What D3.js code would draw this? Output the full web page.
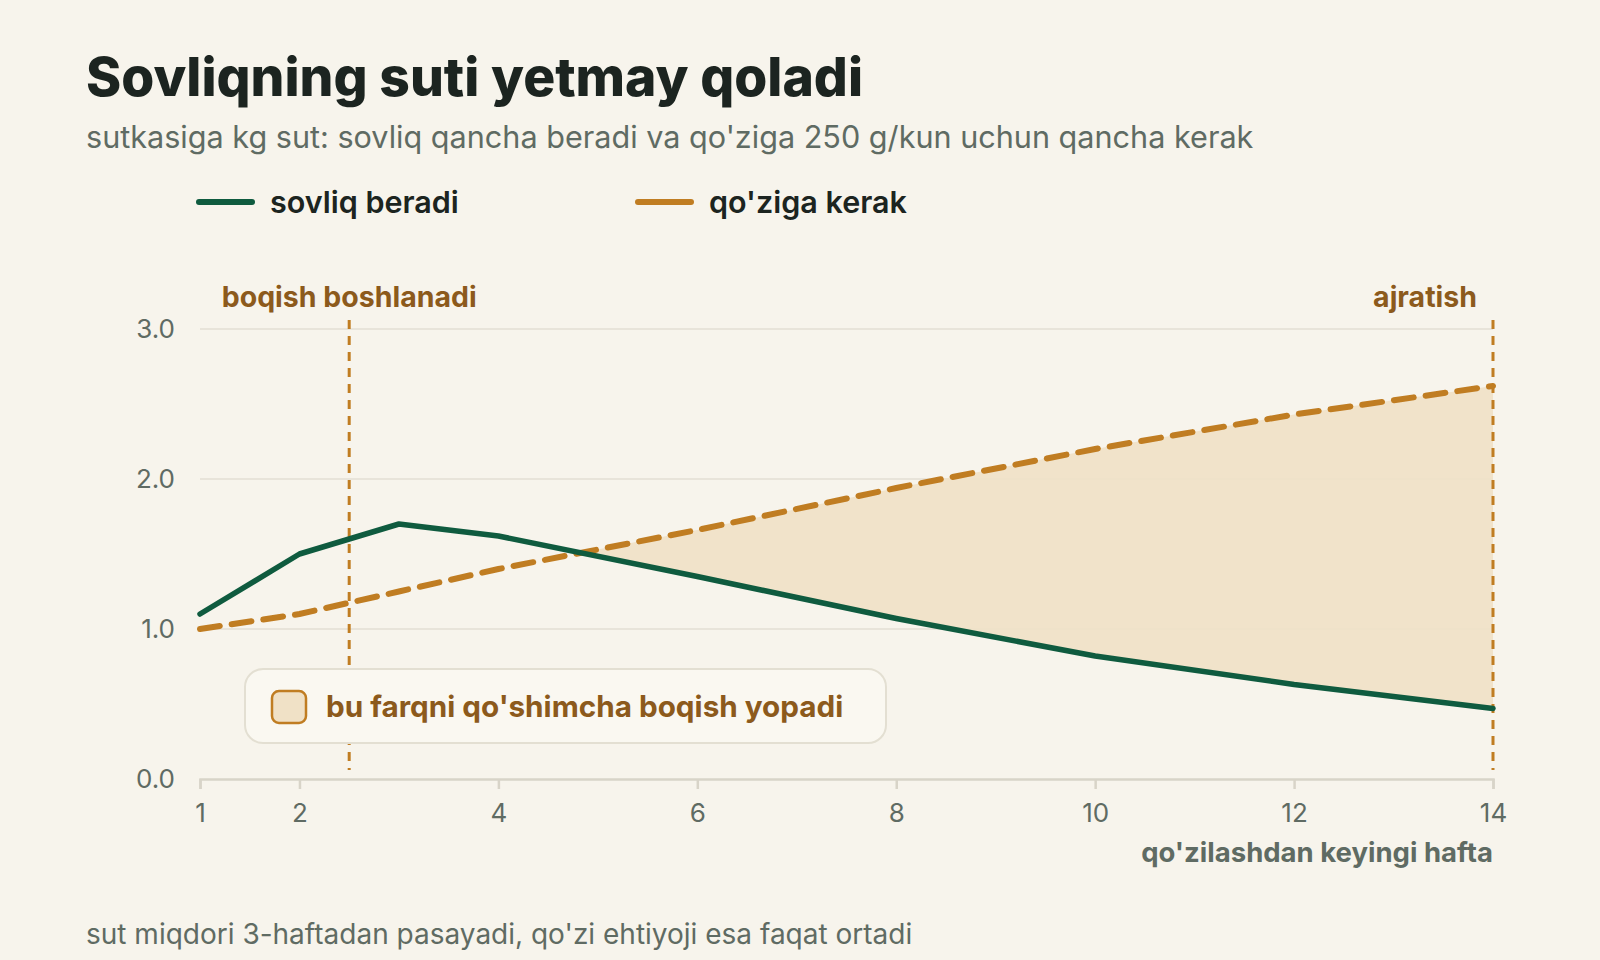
<!DOCTYPE html>
<html>
<head>
<meta charset="utf-8">
<script src="https://cdn.jsdelivr.net/npm/d3@7"></script>
<style>
  html, body { margin: 0; padding: 0; background: #f7f4ec; }
  svg { display: block; font-family: Inter, "Noto Sans", sans-serif; }
</style>
</head>
<body>
<svg id="chart" width="1600" height="960"></svg>
<script>
// ---- data ----
const weeks = [1, 2, 3, 4, 6, 8, 10, 12, 14];
const eweGives = [1.1, 1.5, 1.7, 1.62, 1.35, 1.07, 0.82, 0.63, 0.47];
const lambNeeds = [1.0, 1.1, 1.25, 1.4, 1.66, 1.94, 2.2, 2.43, 2.62];
const xTicks = [1, 2, 4, 6, 8, 10, 12, 14];
const yTicks = [0, 1, 2, 3];
const markers = [
  { week: 2.5, label: "boqish boshlanadi", anchor: "middle" },
  { week: 14, label: "ajratish", anchor: "end" }
];
const seriesNames = ["sovliq beradi", "qo'ziga kerak"];
const titleText = "Sovliqning suti yetmay qoladi";
const subtitleText = "sutkasiga kg sut: sovliq qancha beradi va qo'ziga 250 g/kun uchun qancha kerak";
const xTitle = "qo'zilashdan keyingi hafta";
const gapLabel = "bu farqni qo'shimcha boqish yopadi";
const footerText = "sut miqdori 3-haftadan pasayadi, qo'zi ehtiyoji esa faqat ortadi";

// ---- style ----
const GREEN = "#0f5b3f";
const ORANGE = "#c07d22";
const BROWN = "#8c5a1c";
const GRAY = "#5f6b63";
const GRID = "#e3dfd4";
const FILL = "#f0e1c6";

const svg = d3.select("#chart");
const W = 1600, H = 960;
svg.append("rect").attr("width", W).attr("height", H).attr("fill", "#f7f4ec");

const x = d3.scaleLinear().domain([1, 14]).range([200, 1493]);
const y = d3.scaleLinear().domain([0, 3]).range([779, 329]);

const data = weeks.map((w, i) => ({ w, give: eweGives[i], need: lambNeeds[i] }));

// title
svg.append("text").attr("x", 86).attr("y", 96)
  .attr("font-size", 53.4).attr("font-weight", 800).attr("fill", "#1c2420")
  .text(titleText);
svg.append("text").attr("x", 86).attr("y", 148)
  .attr("font-size", 30.6).attr("fill", GRAY).text(subtitleText);

// legend
const legend = [
  { name: seriesNames[0], color: GREEN, x: 199 },
  { name: seriesNames[1], color: ORANGE, x: 638 }
];
legend.forEach(l => {
  svg.append("line").attr("x1", l.x).attr("x2", l.x + 53).attr("y1", 202).attr("y2", 202)
    .attr("stroke", l.color).attr("stroke-width", 6).attr("stroke-linecap", "round");
  svg.append("text").attr("x", l.x + 71).attr("y", 213)
    .attr("font-size", 30.5).attr("font-weight", 600).attr("fill", "#1c2420").text(l.name);
});

// gridlines
svg.append("g").selectAll("line").data(yTicks.filter(d => d > 0)).join("line")
  .attr("x1", x(1)).attr("x2", x(14)).attr("y1", d => y(d)).attr("y2", d => y(d))
  .attr("stroke", GRID).attr("stroke-width", 1.5);

// y labels
svg.append("g").selectAll("text").data(yTicks).join("text")
  .attr("x", 175).attr("y", d => y(d)).attr("dy", "0.35em")
  .attr("text-anchor", "end").attr("font-size", 26).attr("fill", GRAY)
  .text(d => d3.format(".1f")(d));

// gap area (need above give)
const area = d3.area()
  .x(d => x(d.w))
  .y0(d => y(Math.min(d.give, d.need)))
  .y1(d => y(d.need));
const dense = [];
for (let i = 0; i < data.length; i++) {
  const a = data[i];
  dense.push(a);
  if (i < data.length - 1) {
    const b = data[i + 1];
    const da = a.need - a.give, db = b.need - b.give;
    if (da * db < 0) {
      const t = da / (da - db);
      const w = a.w + t * (b.w - a.w);
      const v = a.give + t * (b.give - a.give);
      dense.push({ w, give: v, need: v });
    }
  }
}
svg.append("path").datum(dense)
  .attr("d", area).attr("fill", FILL).attr("opacity", 0.9);

// x axis
const xAxis = d3.axisBottom(x).tickValues(xTicks).tickSize(10).tickPadding(15).tickFormat(d3.format("d"));
const gx = svg.append("g").attr("transform", `translate(0,${y(0)})`).call(xAxis);
gx.select(".domain").attr("stroke", "#d8d4c8").attr("stroke-width", 2.5);
gx.selectAll(".tick line").attr("stroke", "#d8d4c8").attr("stroke-width", 2.5);
gx.selectAll(".tick text").attr("font-size", 26).attr("fill", GRAY).attr("font-family", "Inter");

svg.append("text").attr("x", x(14)).attr("y", 862).attr("text-anchor", "end")
  .attr("font-size", 27.5).attr("font-weight", 700).attr("fill", GRAY).text(xTitle);

// marker lines
markers.forEach(m => {
  svg.append("line").attr("x1", x(m.week)).attr("x2", x(m.week))
    .attr("y1", 320).attr("y2", 770)
    .attr("stroke", ORANGE).attr("stroke-width", 3).attr("stroke-dasharray", "9,7");
  svg.append("text")
    .attr("x", m.anchor === "end" ? x(m.week) - 16 : x(m.week))
    .attr("y", 307).attr("text-anchor", m.anchor)
    .attr("font-size", 28.5).attr("font-weight", 700).attr("fill", BROWN).text(m.label);
});

// lines
const lineGive = d3.line().x(d => x(d.w)).y(d => y(d.give));
const lineNeed = d3.line().x(d => x(d.w)).y(d => y(d.need));
svg.append("path").datum(data).attr("d", lineNeed).attr("fill", "none")
  .attr("stroke", ORANGE).attr("stroke-width", 6).attr("stroke-dasharray", "20,12")
  .attr("stroke-linecap", "round");
svg.append("path").datum(data).attr("d", lineGive).attr("fill", "none")
  .attr("stroke", GREEN).attr("stroke-width", 5.5).attr("stroke-linecap", "round")
  .attr("stroke-linejoin", "round");

// annotation box
const bx = 245, by = 669, bw = 641, bh = 74;
svg.append("rect").attr("x", bx).attr("y", by).attr("width", bw).attr("height", bh)
  .attr("rx", 18).attr("fill", "#faf8f1").attr("stroke", "#e3dfd2").attr("stroke-width", 2);
svg.append("rect").attr("x", 272).attr("y", 691).attr("width", 34).attr("height", 32)
  .attr("rx", 7).attr("fill", FILL).attr("stroke", ORANGE).attr("stroke-width", 2.5);
svg.append("text").attr("x", 326).attr("y", 707).attr("dy", "0.35em")
  .attr("font-size", 29.7).attr("font-weight", 700).attr("fill", BROWN).text(gapLabel);

// footer
svg.append("text").attr("x", 86).attr("y", 944)
  .attr("font-size", 28).attr("fill", GRAY).text(footerText);
</script>
</body>
</html>
